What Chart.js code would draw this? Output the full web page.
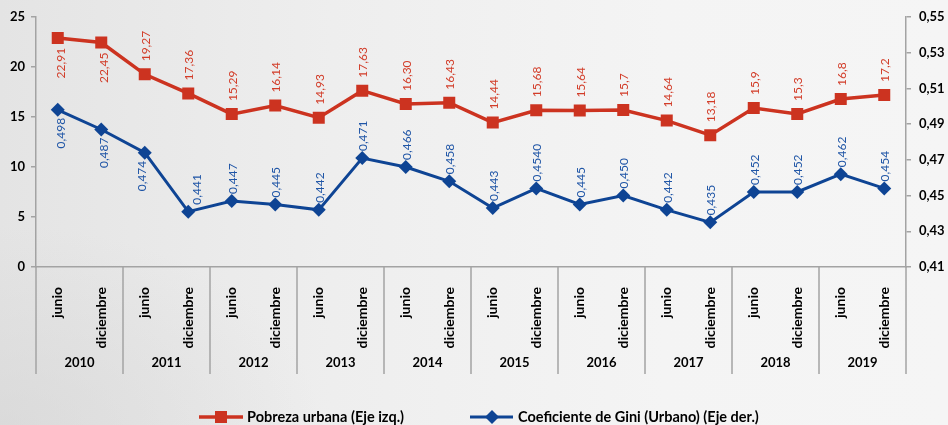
<!DOCTYPE html>
<html><head><meta charset="utf-8">
<script src="https://cdn.jsdelivr.net/npm/chart.js@4.4.0/dist/chart.umd.min.js"></script>
<style>
html,body{margin:0;padding:0;}
body{width:948px;height:425px;overflow:hidden;
  background:
    radial-gradient(ellipse 320px 200px at 0% 100%, rgba(210,210,210,0.55), rgba(210,210,210,0) 100%),
    linear-gradient(90deg,#e4e4e4 0%,#eeeeee 35%,#f4f4f4 70%,#f5f5f5 100%);}
#wrap{position:relative;width:948px;height:425px}
</style></head><body><div id="wrap"><canvas id="c" width="948" height="425"></canvas></div>
<script>
const years = ['2010','2011','2012','2013','2014','2015','2016','2017','2018','2019'];
const periods = ['junio','diciembre','junio','diciembre','junio','diciembre','junio','diciembre','junio','diciembre',
                 'junio','diciembre','junio','diciembre','junio','diciembre','junio','diciembre','junio','diciembre'];
const pobreza = [22.91,22.45,19.27,17.36,15.29,16.14,14.93,17.63,16.30,16.43,14.44,15.68,15.64,15.7,14.64,13.18,15.9,15.3,16.8,17.2];
const pobrezaLabels = ['22,91','22,45','19,27','17,36','15,29','16,14','14,93','17,63','16,30','16,43','14,44','15,68','15,64','15,7','14,64','13,18','15,9','15,3','16,8','17,2'];
const gini = [0.498,0.487,0.474,0.441,0.447,0.445,0.442,0.471,0.466,0.458,0.443,0.454,0.445,0.450,0.442,0.435,0.452,0.452,0.462,0.454];
const giniLabels = ['0,498','0,487','0,474','0,441','0,447','0,445','0,442','0,471','0,466','0,458','0,443','0,4540','0,445','0,450','0,442','0,435','0,452','0,452','0,462','0,454'];
const leftTicks = [0,5,10,15,20,25];
const rightTicks = [0.41,0.43,0.45,0.47,0.49,0.51,0.53,0.55];
const seriesNames = ['Pobreza urbana (Eje izq.)','Coeficiente de Gini (Urbano) (Eje der.)'];

const RED = '#cc3320', BLUE = '#0e4494';
const RED_TXT = '#d23c28', BLUE_TXT = '#1f55a6';
const AXIS = '#a3a3a3';

const labelPlugin = {
  id: 'pointLabels',
  afterDatasetsDraw(chart, args, opts) {
    const ctx = chart.ctx;
    ctx.save();
    ctx.font = '12px Lato';
    ctx.textBaseline = 'middle';
    chart.data.datasets.forEach((ds, di) => {
      const meta = chart.getDatasetMeta(di);
      const cfg = opts.sets[di];
      ctx.fillStyle = cfg.color;
      meta.data.forEach((pt, i) => {
        const below = cfg.below.includes(i);
        const dx = (cfg.nudge && cfg.nudge[i]) || 0;
        ctx.save();
        if (below) {
          ctx.translate(pt.x + 3 + dx, pt.y + cfg.offBelow);
          ctx.rotate(-Math.PI / 2);
          ctx.textAlign = 'right';
        } else {
          ctx.translate(pt.x + 1 + dx, pt.y - cfg.offAbove);
          ctx.rotate(-Math.PI / 2);
          ctx.textAlign = 'left';
        }
        ctx.fillText(ds.pointLabels[i], 0, 0);
        ctx.restore();
      });
    });
    ctx.restore();
  }
};

const groupPlugin = {
  id: 'groups',
  afterDraw(chart) {
    const ctx = chart.ctx;
    const xs = chart.scales.x;
    const top = chart.chartArea.bottom;
    ctx.save();
    ctx.strokeStyle = AXIS;
    ctx.lineWidth = 1.5;
    const bounds = [];
    for (let g = 0; g <= years.length; g++) {
      let x;
      if (g === 0) x = chart.chartArea.left;
      else if (g === years.length) x = chart.chartArea.right;
      else x = (xs.getPixelForValue(2 * g - 1) + xs.getPixelForValue(2 * g)) / 2;
      bounds.push(x);
      ctx.beginPath();
      ctx.moveTo(x, top);
      ctx.lineTo(x, top + 107);
      ctx.stroke();
    }
    ctx.fillStyle = '#000';
    ctx.font = 'bold 13px Lato';
    ctx.textAlign = 'center';
    ctx.textBaseline = 'middle';
    years.forEach((y, g) => {
      ctx.fillText(y, (bounds[g] + bounds[g + 1]) / 2, top + 96);
    });

    // legend
    const ly = 417;
    ctx.font = 'bold 14.5px Lato';
    ctx.textAlign = 'left';
    // red
    ctx.strokeStyle = RED; ctx.lineWidth = 3.5;
    ctx.beginPath(); ctx.moveTo(199, ly); ctx.lineTo(243, ly); ctx.stroke();
    ctx.fillStyle = RED; ctx.fillRect(215, ly - 6, 12, 12);
    ctx.fillStyle = '#000'; ctx.fillText(seriesNames[0], 247, ly);
    // blue
    ctx.strokeStyle = BLUE; ctx.lineWidth = 3;
    ctx.beginPath(); ctx.moveTo(470, ly); ctx.lineTo(513, ly); ctx.stroke();
    ctx.fillStyle = BLUE;
    ctx.beginPath(); ctx.moveTo(492, ly - 7); ctx.lineTo(499, ly); ctx.lineTo(492, ly + 7); ctx.lineTo(485, ly); ctx.closePath(); ctx.fill();
    ctx.fillStyle = '#000'; ctx.fillText(seriesNames[1], 518, ly);
    ctx.restore();
  }
};

function fmt2(v) { return v.toFixed(2).replace('.', ','); }

function build() {
  new Chart(document.getElementById('c'), {
    type: 'line',
    data: {
      labels: periods,
      datasets: [
        { label: seriesNames[0], data: pobreza, pointLabels: pobrezaLabels, yAxisID: 'y',
          borderColor: RED, backgroundColor: RED, borderWidth: 3.5, tension: 0,
          pointStyle: 'rect', pointRadius: 8.5, pointBackgroundColor: RED, pointBorderWidth: 0 },
        { label: seriesNames[1], data: gini, pointLabels: giniLabels, yAxisID: 'y1',
          borderColor: BLUE, backgroundColor: BLUE, borderWidth: 3, tension: 0,
          pointStyle: 'rectRot', pointRadius: 7, pointBackgroundColor: BLUE, pointBorderWidth: 0 }
      ]
    },
    options: {
      responsive: false,
      animation: false,
      devicePixelRatio: 1,
      layout: { padding: { top: 17, left: 0, right: 0, bottom: 0 } },
      plugins: {
        legend: { display: false },
        tooltip: { enabled: false },
        pointLabels: {
          sets: [
            { color: RED_TXT, below: [0, 1], offAbove: 13, offBelow: 10 },
            { color: BLUE_TXT, below: [0, 1, 2], offAbove: 7, offBelow: 8, nudge: { 2: -6, 3: 8 } }
          ]
        }
      },
      scales: {
        x: {
          type: 'category', offset: true,
          grid: { display: false },
          border: { display: true, color: AXIS, width: 1.5 },
          ticks: { autoSkip: false, maxRotation: 90, minRotation: 90, padding: 12, color: '#000',
                   font: { family: 'Lato', size: 14, weight: 'bold' } },
          afterFit(s) { s.height = 158; }
        },
        y: {
          position: 'left', min: 0, max: 25,
          afterBuildTicks(s) { s.ticks = leftTicks.map(v => ({ value: v })); },
          grid: { drawOnChartArea: false, drawTicks: true, tickLength: 5, color: AXIS, lineWidth: 1.5 },
          border: { display: true, color: AXIS, width: 1.5 },
          ticks: { padding: 6, color: '#000', font: { family: 'Lato', size: 13, weight: 'bold' } },
          afterFit(s) { s.width = 36; }
        },
        y1: {
          position: 'right', min: 0.41, max: 0.55,
          afterBuildTicks(s) { s.ticks = rightTicks.map(v => ({ value: v })); },
          grid: { drawOnChartArea: false, drawTicks: true, tickLength: 5, color: AXIS, lineWidth: 1.5 },
          border: { display: true, color: AXIS, width: 1.5 },
          ticks: { padding: 8, color: '#000', font: { family: 'Lato', size: 13, weight: 'bold' },
                   callback: v => fmt2(v) },
          afterFit(s) { s.width = 42; }
        }
      }
    },
    plugins: [labelPlugin, groupPlugin]
  });
}

Chart.defaults.font.family = 'Lato';
Promise.all([document.fonts.load('bold 12px Lato'), document.fonts.load('12px Lato')])
  .then(build, build);
</script>
</body></html>
